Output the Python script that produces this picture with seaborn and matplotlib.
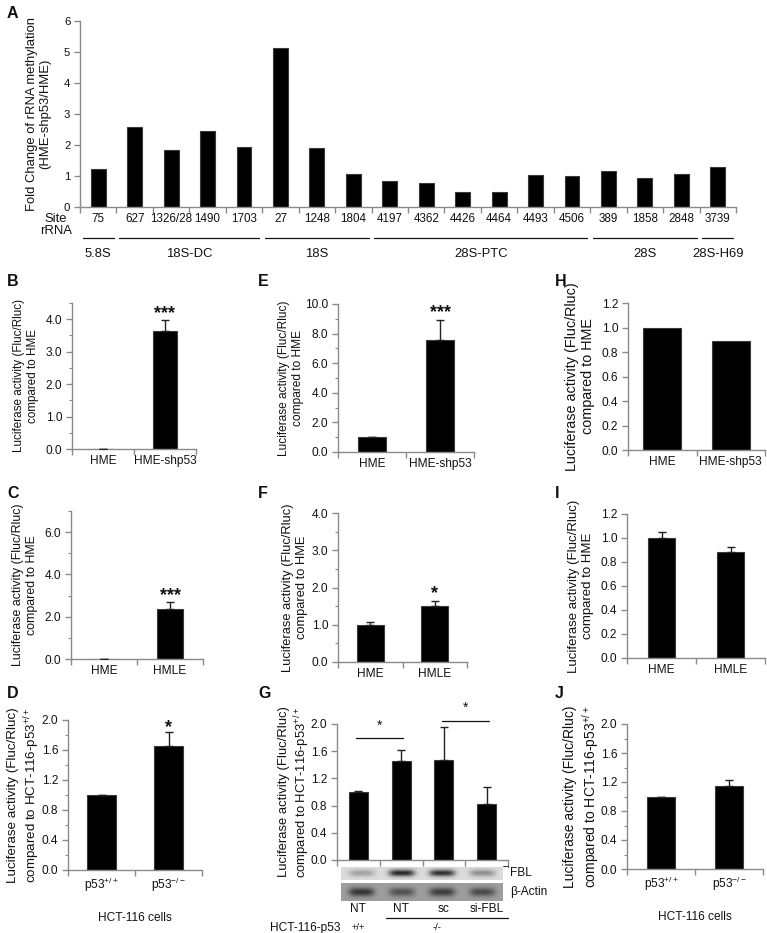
import numpy as np
import pandas as pd
import matplotlib
matplotlib.use("Agg")
import matplotlib.pyplot as plt
import matplotlib.transforms as mtransforms
from matplotlib.ticker import MultipleLocator, FixedLocator, FormatStrFormatter
import seaborn as sns

# ---------------- data ----------------
a_sites = ["75", "627", "1326/28", "1490", "1703", "27", "1248", "1804", "4197", "4362",
           "4426", "4464", "4493", "4506", "389", "1858", "2848", "3739"]
a_fold = [1.23, 2.59, 1.83, 2.44, 1.94, 5.14, 1.90, 1.08, 0.85, 0.76,
          0.50, 0.50, 1.02, 1.00, 1.15, 0.95, 1.06, 1.29]
a_groups = ["5.8S", "18S-DC", "18S", "28S-PTC", "28S", "28S-H69"]
a_group_span = [(0, 0), (1, 4), (5, 7), (8, 13), (14, 16), (17, 17)]

b_cats = ["HME", "HME-shp53"]
b_vals = [0.0, 3.65]
b_errs = [0.0, 0.32]

c_cats = ["HME", "HMLE"]
c_vals = [0.0, 2.35]
c_errs = [0.0, 0.35]

d_cats = ["p53$^{+/+}$", "p53$^{-/-}$"]
d_vals = [1.0, 1.65]
d_errs = [0.0, 0.19]

e_cats = ["HME", "HME-shp53"]
e_vals = [1.0, 7.55]
e_errs = [0.0, 1.40]

f_cats = ["HME", "HMLE"]
f_vals = [0.98, 1.50]
f_errs = [0.10, 0.15]

g_cats = ["NT", "NT", "sc", "si-FBL"]
g_vals = [1.0, 1.46, 1.47, 0.83]
g_errs = [0.01, 0.16, 0.49, 0.24]
g_fbl_band = [0.30, 0.95, 0.90, 0.40]
g_actin_band = [0.75, 0.55, 0.70, 0.60]

h_cats = ["HME", "HME-shp53"]
h_vals = [1.0, 0.89]

i_cats = ["HME", "HMLE"]
i_vals = [1.0, 0.885]
i_errs = [0.05, 0.04]

j_cats = ["p53$^{+/+}$", "p53$^{-/-}$"]
j_vals = [1.0, 1.14]
j_errs = [0.0, 0.09]

# ---------------- style ----------------
sns.set_style("ticks")
plt.rcParams["font.family"] = ["Liberation Sans", "DejaVu Sans"]
plt.rcParams["mathtext.fontset"] = "custom"
plt.rcParams["mathtext.rm"] = "Liberation Sans"
plt.rcParams["mathtext.it"] = "Liberation Sans:italic"
plt.rcParams["mathtext.bf"] = "Liberation Sans:bold"

W, H = 767, 933
fig = plt.figure(figsize=(W / 100, H / 100), dpi=100)
SPINE = "#8a8a8a"
TXT = "#111111"
TFS = 8.6


def add_ax(l, r, t, b):
    return fig.add_axes([l / W, 1 - b / H, (r - l) / W, (b - t) / H])


def fy(ypx):
    return 1 - ypx / H


def style_ax(ax, n, ymax, major, minor, fmt, ylabel, lfs=8.6, tfs=TFS, lpad=5):
    ax.set_xlim(-0.5, n - 0.5)
    ax.set_ylim(0, ymax)
    for s in ["top", "right"]:
        ax.spines[s].set_visible(False)
    for s in ["left", "bottom"]:
        ax.spines[s].set_color(SPINE)
        ax.spines[s].set_linewidth(1.0)
    ax.yaxis.set_major_locator(MultipleLocator(major))
    if minor:
        ax.yaxis.set_minor_locator(MultipleLocator(minor))
    ax.yaxis.set_major_formatter(FormatStrFormatter(fmt))
    ax.xaxis.set_minor_locator(FixedLocator(np.arange(-0.5, n, 1.0)))
    ax.tick_params(axis="x", which="major", length=0, labelsize=tfs, colors=TXT, pad=4)
    ax.tick_params(axis="x", which="minor", length=4, color=SPINE, width=1)
    ax.tick_params(axis="y", which="major", length=4, color=SPINE, width=1, labelsize=tfs, labelcolor=TXT, pad=3)
    ax.tick_params(axis="y", which="minor", length=2.5, color=SPINE, width=0.8)
    ax.set_ylabel(ylabel, fontsize=lfs, color=TXT, labelpad=lpad, linespacing=1.2)
    ax.set_xlabel("")


def bars(ax, cats, vals, errs, width):
    df = pd.DataFrame({"cat": [f"{i}" for i in range(len(cats))], "val": vals})
    sns.barplot(data=df, x="cat", y="val", color="black", saturation=1, width=width,
                edgecolor="#3a3a3a", linewidth=0.8, errorbar=None, ax=ax)
    if errs is not None:
        x = np.arange(len(vals))
        ax.errorbar(x, vals, yerr=[np.zeros(len(vals)), errs], fmt="none",
                    ecolor="#222222", elinewidth=1.0, capsize=3, capthick=1.0, zorder=3)
    ax.set_xticks(range(len(cats)))
    ax.set_xticklabels(cats)


def star(ax, x, y, s, fs=13):
    ax.text(x, y, s, ha="center", va="bottom", fontsize=fs, fontweight="bold",
            color=TXT, clip_on=False)


def panel_label(x, y, s):
    fig.text(x / W, fy(y), s, fontsize=11.5, fontweight="bold", ha="left", va="center", color=TXT)


luc_hme = "Luciferase activity (Fluc/Rluc)\ncompared to HME"
luc_hct = "Luciferase activity (Fluc/Rluc)\ncompared to HCT-116-p53$^{+/+}$"

# ---------------- panel A ----------------
axA = add_ax(80, 736, 21, 207)
bars(axA, a_sites, a_fold, None, 0.41)
style_ax(axA, len(a_sites), 6, 1, None, "%d",
         "Fold Change of rRNA methylation\n(HME-shp53/HME)", lfs=9.4, tfs=8.2, lpad=9)
axA.set_xticklabels([])
trA = mtransforms.blended_transform_factory(axA.transData, fig.transFigure)
for i, s in enumerate(a_sites):
    axA.text(i, fy(219), s, transform=trA, ha="center", va="center", fontsize=8.4, color=TXT)
for (g0, g1), name in zip(a_group_span, a_groups):
    axA.plot([g0 - 0.42, g1 + 0.42], [fy(238), fy(238)], transform=trA, color=TXT,
             lw=0.9, clip_on=False)
    axA.text((g0 + g1) / 2, fy(254), name, transform=trA, ha="center", va="center",
             fontsize=9.4, color=TXT)
fig.text(56 / W, fy(219), "Site", ha="center", va="center", fontsize=9.4, color=TXT)
fig.text(56 / W, fy(231), "rRNA", ha="center", va="center", fontsize=9.4, color=TXT)
panel_label(7, 13, "A")

# ---------------- panel B ----------------
axB = add_ax(72, 196, 303, 449)
bars(axB, b_cats, b_vals, b_errs, 0.39)
style_ax(axB, 2, 4.5, 1.0, 0.5, "%.1f", luc_hme, lfs=8.4)
star(axB, 1, b_vals[1] + b_errs[1] - 0.05, "***")
panel_label(7, 282, "B")

# ---------------- panel C ----------------
axC = add_ax(71, 203, 511, 659)
bars(axC, c_cats, c_vals, c_errs, 0.39)
style_ax(axC, 2, 7, 2.0, 1.0, "%.1f", luc_hme, lfs=8.9)
star(axC, 1, c_vals[1] + c_errs[1] - 0.1, "***")
panel_label(7, 494, "C")

# ---------------- panel D ----------------
axD = add_ax(68, 202, 720, 870)
bars(axD, d_cats, d_vals, d_errs, 0.43)
style_ax(axD, 2, 2.0, 0.4, 0.2, "%.1f", luc_hct, lfs=9.6, lpad=0)
star(axD, 1, d_vals[1] + d_errs[1] - 0.05, "*")
axD.set_xlabel("HCT-116 cells", fontsize=TFS, color=TXT, labelpad=13)
panel_label(7, 693, "D")

# ---------------- panel E ----------------
axE = add_ax(338, 474, 304, 452)
bars(axE, e_cats, e_vals, e_errs, 0.41)
style_ax(axE, 2, 10, 2.0, 1.0, "%.1f", luc_hme, lfs=8.6, lpad=1)
star(axE, 1, e_vals[1] + e_errs[1] - 0.1, "***")
panel_label(258, 282, "E")

# ---------------- panel F ----------------
axF = add_ax(338, 467, 513, 662)
bars(axF, f_cats, f_vals, f_errs, 0.42)
style_ax(axF, 2, 4.0, 1.0, 0.5, "%.1f", luc_hme, lfs=9.3, lpad=3)
star(axF, 1, f_vals[1] + f_errs[1] - 0.03, "*")
panel_label(258, 494, "F")

# ---------------- panel G ----------------
axG = add_ax(337, 508, 724, 860)
bars(axG, g_cats, g_vals, g_errs, 0.44)
style_ax(axG, 4, 2.0, 0.4, None, "%.1f", luc_hct, lfs=9.4, lpad=-1)
axG.set_xticklabels([])
axG.plot([-0.05, 1.05], [1.79, 1.79], color=TXT, lw=0.9, clip_on=False)
axG.text(0.5, 1.87, "*", ha="center", va="bottom", fontsize=10, color=TXT)
axG.plot([1.95, 3.05], [2.04, 2.04], color=TXT, lw=0.9, clip_on=False)
axG.text(2.5, 2.13, "*", ha="center", va="bottom", fontsize=10, color=TXT)
trG = mtransforms.blended_transform_factory(axG.transData, fig.transFigure)
for i, s in enumerate(g_cats):
    axG.text(i, fy(909), s, transform=trG, ha="center", va="center", fontsize=TFS, color=TXT)
fig.text(270 / W, fy(928), "HCT-116-p53", ha="left", va="center", fontsize=TFS, color=TXT)
axG.text(0, fy(928), "+/+", transform=trG, ha="center", va="center", fontsize=6.8, color=TXT)
axG.text(1.85, fy(928), "-/-", transform=trG, ha="center", va="center", fontsize=6.8, color=TXT)
axG.plot([0.65, 3.5], [fy(918), fy(918)], transform=trG, color=TXT, lw=0.9, clip_on=False)
panel_label(258, 693, "G")


def blot(l, r, t, b, bands, bg, dark):
    axb = add_ax(l, r, t, b)
    nx = 200
    ny = 30
    xs = np.linspace(-0.5, len(bands) - 0.5, nx)
    ys = np.linspace(-1, 1, ny)
    img = np.full((ny, nx), bg)
    for k, inten in enumerate(bands):
        prof_x = np.exp(-((xs - k) / 0.32) ** 4)
        prof_y = np.exp(-(ys / 0.5) ** 2)
        img = img - inten * dark * np.outer(prof_y, prof_x)
    axb.imshow(img, cmap="gray", vmin=0, vmax=1, aspect="auto",
               extent=(0, 1, 0, 1), interpolation="bilinear")
    axb.set_axis_off()
    return axb


blot(341, 503, 867, 880, g_fbl_band, 0.86, 0.75)
blot(341, 503, 883, 901, g_actin_band, 0.62, 0.55)
fig.text(510 / W, fy(873), "FBL", ha="left", va="center", fontsize=TFS, color=TXT)
fig.text(510 / W, fy(892), "β-Actin", ha="left", va="center", fontsize=TFS, color=TXT)
fig.add_artist(plt.Line2D([503 / W, 508 / W, 508 / W], [fy(866), fy(866), fy(867)], color=TXT, lw=0.6))

# ---------------- panel H ----------------
axH = add_ax(628, 765, 303, 450)
bars(axH, h_cats, h_vals, None, 0.55)
style_ax(axH, 2, 1.2, 0.2, None, "%.1f", luc_hme, lfs=10.4)
panel_label(555, 282, "H")

# ---------------- panel I ----------------
axI = add_ax(627, 765, 514, 658)
bars(axI, i_cats, i_vals, i_errs, 0.39)
style_ax(axI, 2, 1.2, 0.2, None, "%.1f", luc_hme, lfs=9.5)
panel_label(555, 494, "I")

# ---------------- panel J ----------------
axJ = add_ax(627, 763, 724, 869)
bars(axJ, j_cats, j_vals, j_errs, 0.42)
style_ax(axJ, 2, 2.0, 0.4, 0.2, "%.1f", luc_hct, lfs=10.0, lpad=0)
axJ.set_xlabel("HCT-116 cells", fontsize=TFS, color=TXT, labelpad=13)
panel_label(555, 693, "J")

fig.savefig("out.png", dpi=100)
